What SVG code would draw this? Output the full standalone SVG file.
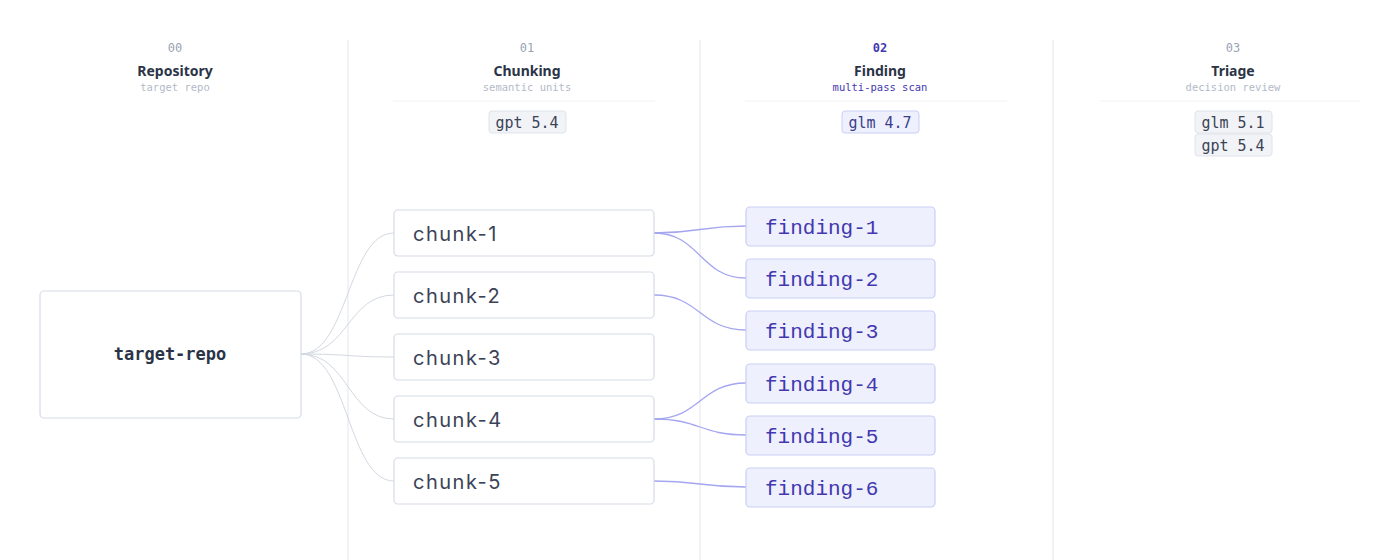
<svg xmlns="http://www.w3.org/2000/svg" width="1400" height="560" viewBox="0 0 1400 560">
<style>
.num{font-family:"DejaVu Sans Mono",monospace;font-size:12px;fill:#9aa3b5;text-anchor:middle}
.title{font-family:"Noto Sans",sans-serif;font-size:14px;font-weight:bold;fill:#2b3447;text-anchor:middle}
.sub{font-family:"DejaVu Sans Mono",monospace;font-size:10.5px;fill:#b3bac8;text-anchor:middle}
.tag{fill:#f1f3f7;stroke:#dfe3ea;stroke-width:1}
.tagt{font-family:"DejaVu Sans Mono",monospace;font-size:15px;fill:#3b4356;text-anchor:middle}
.chunk{fill:#fff;stroke:#d6dbe5;stroke-width:1.2}
.ct{font-family:"Inter",sans-serif;font-size:20px;fill:#3b4356;letter-spacing:1.5px}
.find{fill:#eef0fd;stroke:#c9cff5;stroke-width:1.2}
.ft{font-family:"Liberation Mono",monospace;font-size:21px;fill:#4338b0}
.div{stroke:#e3e6ec;stroke-width:1}
.ul{stroke:#f0f2f5;stroke-width:1}
.cg{fill:none;stroke:#d3d8e1;stroke-width:1}
.cf{fill:none;stroke:#a5a6f0;stroke-width:1.3}
</style>
<rect width="1400" height="560" fill="#fff"/>
<g id="columns">
<line class="div" x1="348" y1="40" x2="348" y2="560"/>
<line class="div" x1="700" y1="40" x2="700" y2="560"/>
<line class="div" x1="1053" y1="40" x2="1053" y2="560"/>
<line class="ul" x1="393" y1="101" x2="655" y2="101"/>
<line class="ul" x1="745" y1="101" x2="1007" y2="101"/>
<line class="ul" x1="1100" y1="101" x2="1360" y2="101"/>
</g>
<g id="header-00"><text class="num" x="175" y="52">00</text><text class="title" x="175" y="76">Repository</text><text class="sub" x="175" y="91">target repo</text></g>
<g id="header-01"><text class="num" x="527" y="52">01</text><text class="title" x="527" y="76">Chunking</text><text class="sub" x="527" y="91">semantic units</text>
<rect class="tag" x="489" y="111" width="77" height="22" rx="3"/><text class="tagt" x="527" y="128">gpt 5.4</text></g>
<g id="header-02"><text class="num" x="880" y="52" style="fill:#4338b0;font-weight:bold">02</text><text class="title" x="880" y="76">Finding</text><text class="sub" x="880" y="91" style="fill:#4338b0">multi-pass scan</text>
<rect class="tag" x="842" y="111" width="77" height="22" rx="3" style="fill:#eef0fd;stroke:#c9cff5"/><text class="tagt" x="880" y="128" style="fill:#3b3f8a">glm 4.7</text></g>
<g id="header-03"><text class="num" x="1233" y="52">03</text><text class="title" x="1233" y="76">Triage</text><text class="sub" x="1233" y="91">decision review</text>
<rect class="tag" x="1195" y="111" width="77" height="22" rx="3"/><text class="tagt" x="1233" y="128">glm 5.1</text>
<rect class="tag" x="1195" y="134" width="77" height="22" rx="3"/><text class="tagt" x="1233" y="151">gpt 5.4</text></g>
<g id="connectors">
<path class="cg" d="M301,354 C348,354 348,233 394,233"/>
<path class="cg" d="M301,354 C348,354 348,295 394,295"/>
<path class="cg" d="M301,354 C348,354 348,357 394,357"/>
<path class="cg" d="M301,354 C348,354 348,419 394,419"/>
<path class="cg" d="M301,354 C348,354 348,481 394,481"/>
<path class="cf" d="M654,233 C700,233 700,226 746,226"/>
<path class="cf" d="M654,233 C700,233 700,278 746,278"/>
<path class="cf" d="M654,295 C700,295 700,330 746,330"/>
<path class="cf" d="M654,419 C700,419 700,383 746,383"/>
<path class="cf" d="M654,419 C700,419 700,435 746,435"/>
<path class="cf" d="M654,481 C700,481 700,487 746,487"/>
</g>
<g id="target-repo"><rect class="chunk" x="40" y="291" width="261" height="127" rx="4"/><text x="170" y="360" style="font-family:'DejaVu Sans Mono',monospace;font-size:17px;font-weight:bold;fill:#2b3447;text-anchor:middle">target-repo</text></g>
<g id="chunk-1"><rect class="chunk" x="394" y="210" width="260" height="46" rx="4"/><text class="ct" x="413" y="241">chunk-1</text></g>
<g id="chunk-2"><rect class="chunk" x="394" y="272" width="260" height="46" rx="4"/><text class="ct" x="413" y="303">chunk-2</text></g>
<g id="chunk-3"><rect class="chunk" x="394" y="334" width="260" height="46" rx="4"/><text class="ct" x="413" y="365">chunk-3</text></g>
<g id="chunk-4"><rect class="chunk" x="394" y="396" width="260" height="46" rx="4"/><text class="ct" x="413" y="427">chunk-4</text></g>
<g id="chunk-5"><rect class="chunk" x="394" y="458" width="260" height="46" rx="4"/><text class="ct" x="413" y="489">chunk-5</text></g>
<g id="finding-1"><rect class="find" x="746" y="207" width="189" height="39" rx="4"/><text class="ft" x="765" y="234">finding-1</text></g>
<g id="finding-2"><rect class="find" x="746" y="259" width="189" height="39" rx="4"/><text class="ft" x="765" y="286">finding-2</text></g>
<g id="finding-3"><rect class="find" x="746" y="311" width="189" height="39" rx="4"/><text class="ft" x="765" y="338">finding-3</text></g>
<g id="finding-4"><rect class="find" x="746" y="364" width="189" height="39" rx="4"/><text class="ft" x="765" y="391">finding-4</text></g>
<g id="finding-5"><rect class="find" x="746" y="416" width="189" height="39" rx="4"/><text class="ft" x="765" y="443">finding-5</text></g>
<g id="finding-6"><rect class="find" x="746" y="468" width="189" height="39" rx="4"/><text class="ft" x="765" y="495">finding-6</text></g>
</svg>
